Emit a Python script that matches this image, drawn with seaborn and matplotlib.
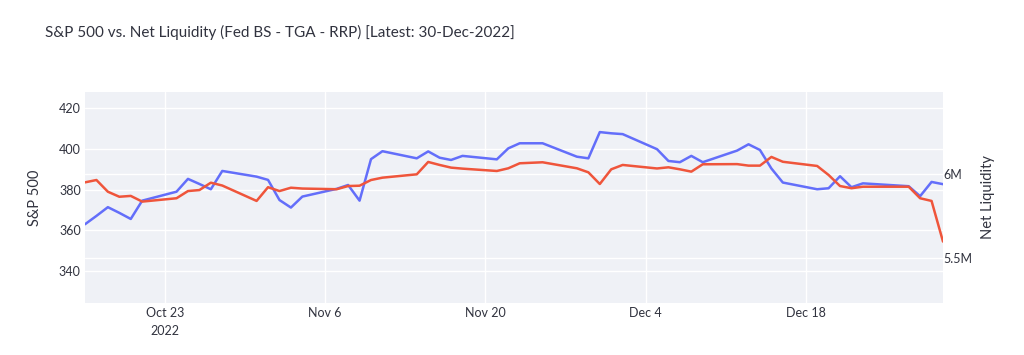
import pandas as pd
import seaborn as sns
import matplotlib.pyplot as plt
from matplotlib.ticker import FuncFormatter

# trading days shown in the chart
dates = pd.to_datetime([
    "2022-10-16", "2022-10-17", "2022-10-18", "2022-10-19", "2022-10-20", "2022-10-21",
    "2022-10-24", "2022-10-25", "2022-10-26", "2022-10-27", "2022-10-28",
    "2022-10-31", "2022-11-01", "2022-11-02", "2022-11-03", "2022-11-04",
    "2022-11-07", "2022-11-08", "2022-11-09", "2022-11-10", "2022-11-11",
    "2022-11-14", "2022-11-15", "2022-11-16", "2022-11-17", "2022-11-18",
    "2022-11-21", "2022-11-22", "2022-11-23", "2022-11-25",
    "2022-11-28", "2022-11-29", "2022-11-30", "2022-12-01", "2022-12-02",
    "2022-12-05", "2022-12-06", "2022-12-07", "2022-12-08", "2022-12-09",
    "2022-12-12", "2022-12-13", "2022-12-14", "2022-12-15", "2022-12-16",
    "2022-12-19", "2022-12-20", "2022-12-21", "2022-12-22", "2022-12-23",
    "2022-12-27", "2022-12-28", "2022-12-29", "2022-12-30",
])

sp500 = [
    363.0, 367.1, 371.4, 368.6, 365.6, 374.6,
    379.0, 385.3, 382.8, 380.2, 389.2,
    386.4, 384.8, 374.9, 371.2, 376.6,
    380.4, 382.3, 374.6, 395.0, 398.9,
    395.4, 398.8, 395.7, 394.6, 396.6,
    394.9, 400.3, 402.8, 402.8,
    396.2, 395.4, 408.3, 407.7, 407.3,
    399.9, 394.1, 393.5, 396.6, 393.5,
    399.2, 402.3, 399.5, 390.4, 383.5,
    380.2, 380.7, 386.6, 381.2, 383.1,
    381.7, 376.8, 383.8, 382.7,
]

# net liquidity, millions of millions (tick "6M" = 6,000,000)
net_liquidity = [
    5.950, 5.964, 5.894, 5.864, 5.869, 5.835,
    5.855, 5.898, 5.904, 5.948, 5.931,
    5.839, 5.921, 5.898, 5.918, 5.913,
    5.909, 5.928, 5.930, 5.964, 5.978,
    5.998, 6.072, 6.054, 6.038, 6.032,
    6.018, 6.034, 6.064, 6.070,
    6.034, 6.010, 5.940, 6.028, 6.054,
    6.033, 6.040, 6.028, 6.014, 6.058,
    6.059, 6.050, 6.050, 6.102, 6.073,
    6.048, 5.994, 5.928, 5.915, 5.924,
    5.924, 5.855, 5.839, 5.596,
]

tick_dates = pd.to_datetime(["2022-10-23", "2022-11-06", "2022-11-20", "2022-12-04", "2022-12-18"])
tick_labels = ["Oct 23\n2022", "Nov 6", "Nov 20", "Dec 4", "Dec 18"]
left_ticks = [340, 360, 380, 400, 420]
right_ticks = [5.5, 6.0]

TEXT = "#31333F"
BG = "#EFF1F6"

sns.set_theme(style="white", rc={"axes.facecolor": BG})
plt.rcParams["font.family"] = ["Lato", "DejaVu Sans"]

df = pd.DataFrame({"date": dates, "sp500": sp500, "liq": net_liquidity})

fig = plt.figure(figsize=(10.24, 3.55), dpi=100)
ax = fig.add_axes([85 / 1024, 52 / 355, 858 / 1024, 211 / 355])
ax2 = ax.twinx()

sns.lineplot(data=df, x="date", y="sp500", ax=ax, color="#636EFA", linewidth=1.8, zorder=3)
sns.lineplot(data=df, x="date", y="liq", ax=ax2, color="#EF553B", linewidth=1.8, zorder=3)

ax.set_xlim(dates[0], dates[-1])
ax.set_ylim(324.3, 428)
ax2.set_ylim(5.229, 6.490)

ax.set_xticks(tick_dates)
ax.set_xticklabels(tick_labels, linespacing=1.6)
ax.set_yticks(left_ticks)
ax2.set_yticks(right_ticks)
ax2.yaxis.set_major_formatter(FuncFormatter(lambda v, p: f"{v:g}M"))

# gridlines for both axes drawn under the lines
for d in tick_dates:
    ax.axvline(d, color="white", linewidth=1, zorder=0.5)
for v in left_ticks:
    ax.axhline(v, color="white", linewidth=1, zorder=0.5)
l0, l1 = ax.get_ylim()
r0, r1 = ax2.get_ylim()
for v in right_ticks:
    ax.axhline(l0 + (v - r0) / (r1 - r0) * (l1 - l0), color="white", linewidth=1, zorder=0.5)

for a in (ax, ax2):
    for s in a.spines.values():
        s.set_visible(False)
    a.tick_params(length=0, labelsize=9, colors=TEXT, pad=3)
    a.grid(False)
ax2.tick_params(pad=0.5)

ax.set_xlabel("")
ax.set_ylabel("S&P 500", fontsize=10.5, color=TEXT, labelpad=12)
ax2.set_ylabel("Net Liquidity", fontsize=10.5, color=TEXT, labelpad=6)

fig.text(45 / 1024, 1 - 32 / 355, "S&P 500 vs. Net Liquidity (Fed BS - TGA - RRP) [Latest: 30-Dec-2022]",
         fontsize=11, color=TEXT, va="center", ha="left")

fig.savefig("out.png", dpi=100)
plt.close()
